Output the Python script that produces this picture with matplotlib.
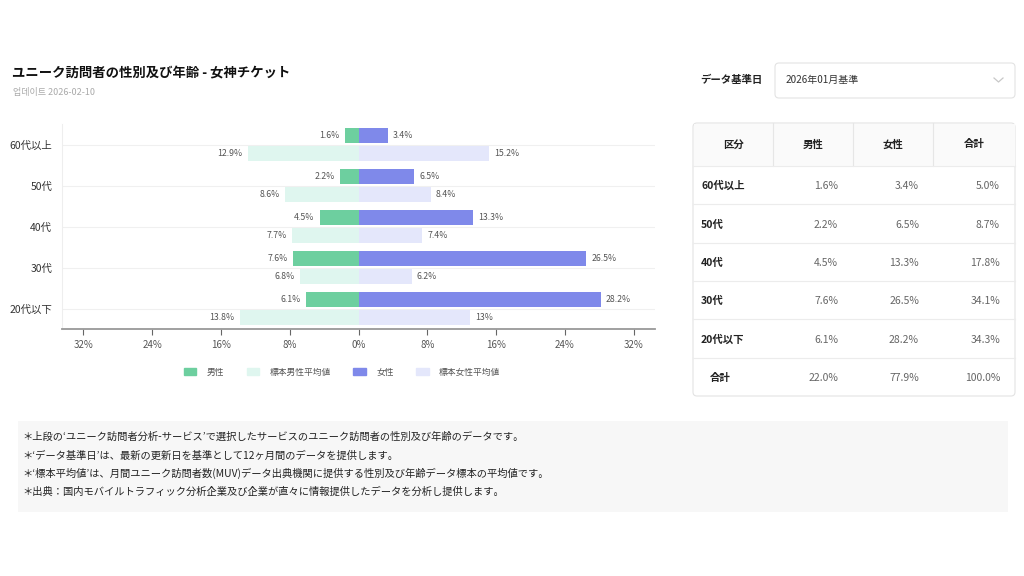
# 女神チケット ユニーク訪問者の性別・年齢分布
import numpy as np
import matplotlib.pyplot as plt
from matplotlib.patches import Rectangle, FancyBboxPatch, Patch

plt.rcParams['font.family'] = ['Noto Sans CJK JP', 'Noto Sans CJK KR', 'DejaVu Sans']
plt.rcParams['axes.unicode_minus'] = False

# データ（上から順）
ages = ['60代以上', '50代', '40代', '30代', '20代以下']
male = [1.6, 2.2, 4.5, 7.6, 6.1]
female = [3.4, 6.5, 13.3, 26.5, 28.2]
male_avg = [12.9, 8.6, 7.7, 6.8, 13.8]
female_avg = [15.2, 8.4, 7.4, 6.2, 13.0]
total_row = [22.0, 77.9, 100.0]
ticks = [-32, -24, -16, -8, 0, 8, 16, 24, 32]

C_MALE = '#6dcf9f'
C_FEMALE = '#7f89ea'
C_MALE_AVG = '#dff6ef'
C_FEMALE_AVG = '#e4e7fb'
TXT = '#555555'

fig = plt.figure(figsize=(10.24, 5.76), dpi=100)
fig.patch.set_facecolor('white')

# 背景用（ピクセル座標）
bg = fig.add_axes([0, 0, 1, 1])
bg.set_xlim(0, 1024)
bg.set_ylim(576, 0)
bg.axis('off')

bg.text(12, 73, 'ユニーク訪問者の性別及び年齢 - 女神チケット', fontsize=9.6, fontweight='bold',
        color='#111111', va='center')
bg.text(13, 92, '업데이트 2026-02-10', fontsize=6.5, color='#aaaaaa', va='center')

# グラフ
ax = fig.add_axes([62 / 1024, 1 - 329 / 576, 593 / 1024, 205 / 576])
y = np.arange(len(ages))
h = 0.355
off = 0.22
ax.barh(y - off, [-v for v in male], height=h, color=C_MALE, zorder=3)
ax.barh(y - off, female, height=h, color=C_FEMALE, zorder=3)
ax.barh(y + off, [-v for v in male_avg], height=h, color=C_MALE_AVG, zorder=3)
ax.barh(y + off, female_avg, height=h, color=C_FEMALE_AVG, zorder=3)

for i in range(len(ages)):
    ax.text(-male[i] - 0.6, y[i] - off, f'{male[i]:g}%', ha='right', va='center', fontsize=6.3, color=TXT)
    ax.text(female[i] + 0.6, y[i] - off, f'{female[i]:g}%', ha='left', va='center', fontsize=6.3, color=TXT)
    ax.text(-male_avg[i] - 0.6, y[i] + off, f'{male_avg[i]:g}%', ha='right', va='center', fontsize=6.3, color=TXT)
    ax.text(female_avg[i] + 0.6, y[i] + off, f'{female_avg[i]:g}%', ha='left', va='center', fontsize=6.3, color=TXT)

ax.set_xlim(-34.5, 34.5)
ax.set_ylim(len(ages) - 0.5, -0.5)
ax.set_yticks(y)
ax.set_yticklabels(ages, fontsize=7.5, color='#333333')
ax.set_xticks(ticks)
ax.set_xticklabels([f'{abs(t)}%' for t in ticks], fontsize=7, color=TXT)
ax.tick_params(axis='y', length=0, pad=7)
ax.tick_params(axis='x', length=4, color='#666666', width=0.8, pad=4)
ax.grid(axis='y', color='#f0f0f0', linewidth=0.8, zorder=0)
for s in ['top', 'right']:
    ax.spines[s].set_visible(False)
ax.spines['left'].set_color('#eeeeee')
ax.spines['bottom'].set_color('#999999')
ax.spines['bottom'].set_linewidth(1.3)

handles = [Patch(color=C_MALE, label='男性'), Patch(color=C_MALE_AVG, label='標本男性平均値'),
           Patch(color=C_FEMALE, label='女性'), Patch(color=C_FEMALE_AVG, label='標本女性平均値')]
leg = fig.legend(handles=handles, loc='center', bbox_to_anchor=(342 / 1024, 1 - 372 / 576), ncol=4,
                 frameon=False, fontsize=6.3, handlelength=1.4, handleheight=0.9, columnspacing=2.6,
                 handletextpad=1.2)
for t in leg.get_texts():
    t.set_color(TXT)

# データ基準日
bg.text(700, 80, 'データ基準日', fontsize=7.5, fontweight='bold', color='#222222', va='center')
bg.add_patch(FancyBboxPatch((775, 63), 240, 35, boxstyle='round,pad=0,rounding_size=4',
                            facecolor='white', edgecolor='#e3e3e3', linewidth=0.8))
bg.text(786, 80, '2026年01月基準', fontsize=7.2, color='#333333', va='center')
bg.plot([994, 998.5, 1003], [78, 82, 78], color='#c8c8c8', linewidth=0.9)

# 表
tx0, tx1, ty0, ty1 = 693, 1015, 123, 396
bg.add_patch(FancyBboxPatch((tx0, ty0), tx1 - tx0, ty1 - ty0, boxstyle='round,pad=0,rounding_size=4',
                            facecolor='white', edgecolor='#e3e3e3', linewidth=0.8, zorder=1))
head_h = 43
bg.add_patch(Rectangle((tx0 + 0.5, ty0 + 0.5), tx1 - tx0 - 1, head_h, facecolor='#fafafa',
                       edgecolor='none', zorder=1.5))
col_x = [693, 773, 853, 933, 1015]
for cx in col_x[1:-1]:
    bg.plot([cx, cx], [ty0, ty0 + head_h], color='#e6e6e6', linewidth=0.8, zorder=2)
headers = ['区分', '男性', '女性', '合計']
for j, name in enumerate(headers):
    bg.text((col_x[j] + col_x[j + 1]) / 2, ty0 + head_h / 2, name, fontsize=7.5, fontweight='bold',
            color='#222222', ha='center', va='center', zorder=3)

row_h = (ty1 - ty0 - head_h) / (len(ages) + 1)
val_x = [838, 919, 1000]
for i in range(len(ages) + 1):
    top = ty0 + head_h + i * row_h
    bg.plot([tx0, tx1], [top, top], color='#ececec', linewidth=0.8, zorder=2)
    cy = top + row_h / 2 + 1
    if i < len(ages):
        label = ages[i]
        vals = [male[i], female[i], male[i] + female[i]]
        bg.text(701, cy, label, fontsize=7.5, fontweight='bold', color='#222222', va='center', zorder=3)
    else:
        vals = total_row
        bg.text(710, cy, '合計', fontsize=7.5, fontweight='bold', color='#222222', va='center', zorder=3)
    for vx, v in zip(val_x, vals):
        bg.text(vx, cy, f'{v:.1f}%', fontsize=7.5, color='#666666', ha='right', va='center', zorder=3)

# 注記
bg.add_patch(Rectangle((18, 421), 990, 91, facecolor='#f7f7f7', edgecolor='none'))
notes = [
    '＊上段の‘ユニーク訪問者分析-サービス’で選択したサービスのユニーク訪問者の性別及び年齢のデータです。',
    '＊‘データ基準日’は、最新の更新日を基準として12ヶ月間のデータを提供します。',
    '＊‘標本平均値’は、月間ユニーク訪問者数(MUV)データ出典機関に提供する性別及び年齢データ標本の平均値です。',
    '＊出典：国内モバイルトラフィック分析企業及び企業が直々に情報提供したデータを分析し提供します。',
]
for k, line in enumerate(notes):
    bg.text(22, 437 + k * 18.3, line, fontsize=7.4, color='#222222', va='center')

fig.savefig('out.png', dpi=100)
